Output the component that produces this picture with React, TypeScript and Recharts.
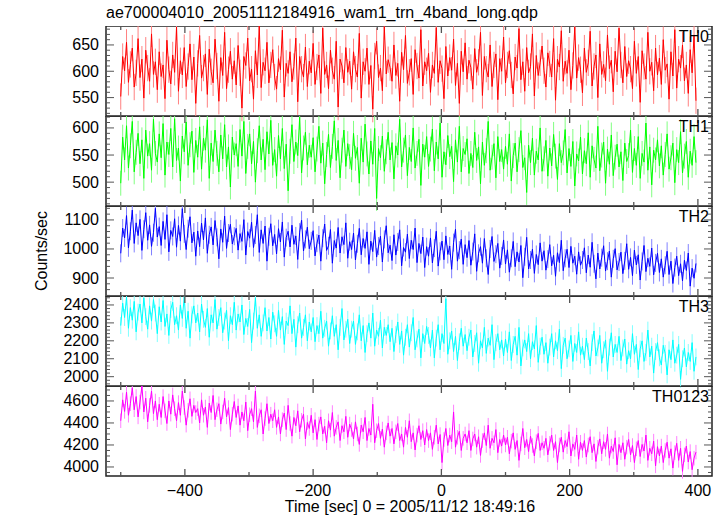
import { LineChart, Line, XAxis, YAxis, ReferenceArea, ErrorBar } from 'recharts';

// time grid of the light curve (seconds from 2005/11/12 18:49:16)
const startTime = -500;
const timeStep = 3;
const timeDomain: [number, number] = [-523, 422];
const timeTicks = [-500, -400, -300, -200, -100, 0, 100, 200, 300, 400];
const timeMajor = [-400, -200, 0, 200, 400];

const th0 = [
  552, 628, 601, 655, 579, 613, 644, 570, 597, 662, 588, 623, 549, 640, 606, 581, 671, 594, 618, 565,
  637, 590, 612, 548, 659, 603, 576, 631, 598, 684, 562, 620, 593, 645, 571, 609, 652, 584, 627, 539,
  615, 668, 587, 606, 633, 556, 642, 599, 578, 661, 610, 543, 626, 592, 674, 567, 603, 638, 585, 620,
  574, 649, 597, 530, 628, 611, 663, 582, 604, 547, 639, 593, 686, 569, 617, 601, 655, 578, 612, 641,
  589, 566, 624, 603, 678, 551, 615, 596, 637, 580, 609, 663, 542, 628, 604, 589, 646, 571, 619, 597,
  653, 575, 608, 631, 558, 682, 594, 612, 567, 640, 601, 585, 657, 532, 623, 610, 578, 645, 598, 619,
  566, 637, 604, 589, 672, 549, 618, 600, 644, 575, 611, 528, 629, 657, 588, 606, 563, 685, 595, 622,
  607, 581, 650, 592, 615, 543, 636, 603, 668, 577, 598, 624, 556, 641, 610, 587, 679, 572, 618, 601,
  634, 560, 612, 596, 683, 579, 620, 605, 548, 647, 591, 626, 602, 661, 573, 615, 539, 638, 599, 654,
  585, 621, 607, 566, 643, 598, 617, 674, 554, 628, 604, 589, 650, 571, 612, 633, 546, 624, 600, 665,
  578, 612, 639, 593, 557, 627, 606, 681, 584, 618, 562, 645, 597, 609, 671, 553, 630, 592, 616, 648,
  601, 570, 635, 614, 589, 662, 545, 623, 608, 677, 581, 619, 596, 640, 565, 611, 684, 587, 626, 603,
  559, 644, 598, 616, 676, 572, 609, 631, 550, 652, 594, 613, 582, 669, 605, 621, 561, 638, 599, 682,
  612, 578, 647, 590, 620, 604, 567, 657, 596, 628, 541, 639, 609, 585, 674, 600, 617, 563, 644, 593,
  625, 575, 660, 602, 614, 547, 637, 591, 679, 568, 623, 606, 650, 582, 612, 558, 641, 597, 669, 544,
];

const th1 = [
  498, 583, 541, 604, 526, 567, 612, 519, 555, 590, 534, 578, 507, 596, 548, 571, 522, 616, 553, 537,
  589, 545, 608, 513, 574, 551, 599, 528, 617, 540, 563, 502, 585, 556, 611, 531, 569, 594, 518, 577,
  546, 602, 524, 581, 559, 615, 507, 572, 538, 596, 553, 519, 587, 543, 606, 528, 565, 491, 583, 550,
  571, 529, 597, 548, 612, 516, 566, 589, 534, 575, 500, 558, 604, 541, 579, 523, 593, 552, 614, 531,
  560, 511, 586, 543, 599, 525, 570, 484, 557, 606, 538, 574, 549, 620, 517, 563, 592, 532, 568, 546,
  582, 519, 561, 603, 535, 572, 497, 551, 588, 527, 566, 613, 540, 577, 508, 559, 596, 529, 571, 547,
  523, 590, 544, 564, 498, 581, 537, 607, 552, 515, 576, 533, 599, 470, 562, 545, 585, 520, 556, 592,
  541, 573, 506, 567, 550, 616, 528, 559, 587, 512, 564, 538, 600, 526, 553, 579, 494, 570, 546, 584,
  529, 561, 598, 521, 574, 543, 609, 509, 556, 532, 586, 547, 566, 501, 578, 537, 603, 519, 562, 551,
  580, 516, 553, 527, 592, 540, 565, 497, 574, 531, 558, 612, 522, 546, 571, 508, 584, 538, 560, 524,
  566, 533, 589, 502, 549, 572, 519, 560, 595, 527, 545, 481, 568, 536, 581, 513, 557, 541, 600, 520,
  543, 577, 511, 563, 530, 588, 548, 505, 571, 536, 554, 597, 517, 562, 529, 575, 493, 552, 539, 583,
  515, 558, 534, 591, 509, 567, 542, 526, 603, 521, 550, 574, 498, 561, 533, 587, 512, 546, 570, 528,
  556, 503, 572, 538, 549, 596, 518, 562, 531, 584, 507, 553, 537, 609, 522, 565, 495, 559, 541, 578,
  530, 567, 513, 551, 589, 524, 545, 572, 499, 560, 536, 593, 517, 548, 575, 509, 557, 531, 584, 536,
];

const th2 = [
  985, 1072, 1038, 1115, 1004, 1061, 1134, 1019, 1090, 1046, 1102, 995, 1068, 1125, 1030, 1083, 1009, 1056, 1140, 1041,
  1077, 1012, 1095, 1033, 1118, 990, 1064, 1043, 1104, 1006, 1081, 1027, 1139, 1052, 998, 1070, 1111, 1021, 1058, 975,
  1062, 1008, 1089, 1031, 1107, 985, 1049, 1076, 1014, 1098, 1040, 966, 1069, 1023, 1113, 1002, 1055, 1085, 1017, 1044,
  1071, 996, 1053, 1026, 1101, 979, 1060, 1037, 1092, 1005, 1048, 1118, 988, 1066, 1019, 1079, 958, 1042, 1087, 1011,
  1050, 983, 1070, 1024, 1093, 972, 1039, 1061, 1007, 1082, 1016, 1045, 964, 1058, 1099, 993, 1033, 1075, 1001, 1028,
  1063, 976, 1020, 1048, 958, 1037, 1086, 995, 1011, 1067, 951, 1029, 1003, 1074, 986, 1042, 1015, 1090, 968, 1025,
  998, 1055, 962, 1018, 1071, 980, 1036, 1002, 1059, 947, 1027, 991, 1064, 972, 1010, 1044, 955, 1033, 1080, 987,
  1013, 960, 1049, 979, 1024, 1066, 942, 1005, 989, 1051, 967, 1030, 998, 1072, 953, 1019, 984, 1041, 936, 1008,
  975, 1038, 952, 1003, 1061, 941, 992, 1027, 963, 1045, 981, 1010, 930, 1022, 1068, 958, 996, 1034, 947, 1015,
  970, 1029, 944, 991, 1052, 923, 985, 1008, 951, 1036, 968, 912, 1000, 1043, 957, 982, 1019, 934, 976, 1031,
  948, 997, 920, 968, 1026, 939, 990, 955, 1012, 901, 973, 1040, 931, 962, 999, 916, 981, 946, 1021, 958,
  994, 927, 965, 1015, 942, 978, 906, 987, 953, 1030, 925, 968, 999, 936, 1009, 951, 975, 913, 990, 944,
  962, 1004, 918, 979, 937, 1023, 949, 897, 986, 931, 970, 1011, 924, 958, 993, 903, 966, 1001, 928, 955,
  989, 915, 959, 1018, 930, 971, 908, 996, 945, 980, 893, 957, 1012, 922, 968, 940, 1003, 911, 952, 985,
  919, 966, 903, 944, 992, 912, 958, 881, 936, 975, 908, 949, 890, 961, 926, 986, 872, 934, 899, 950,
];

const th3 = [
  2285, 2410, 2330, 2445, 2270, 2385, 2315, 2420, 2250, 2360, 2405, 2300, 2440, 2335, 2265, 2395, 2310, 2430, 2355, 2240,
  2390, 2305, 2425, 2280, 2350, 2230, 2375, 2415, 2290, 2340, 2260, 2400, 2325, 2445, 2270, 2365, 2215, 2345, 2395, 2300,
  2355, 2250, 2405, 2320, 2275, 2380, 2220, 2345, 2300, 2430, 2265, 2330, 2385, 2245, 2310, 2370, 2200, 2340, 2290, 2415,
  2260, 2350, 2305, 2400, 2235, 2325, 2280, 2375, 2190, 2310, 2440, 2270, 2345, 2225, 2300, 2385, 2255, 2330, 2210, 2360,
  2295, 2225, 2370, 2260, 2335, 2180, 2310, 2285, 2395, 2240, 2320, 2165, 2290, 2355, 2215, 2275, 2345, 2200, 2305, 2250,
  2330, 2195, 2285, 2240, 2365, 2215, 2270, 2310, 2170, 2255, 2340, 2225, 2290, 2150, 2275, 2380, 2205, 2265, 2320, 2185,
  2265, 2310, 2180, 2250, 2345, 2200, 2285, 2135, 2240, 2300, 2215, 2355, 2170, 2260, 2225, 2315, 2160, 2275, 2230, 2290,
  2195, 2270, 2140, 2235, 2305, 2180, 2255, 2120, 2220, 2290, 2165, 2245, 2330, 2150, 2210, 2265, 2105, 2240, 2185, 2280,
  2230, 2160, 2260, 2105, 2215, 2290, 2150, 2240, 2185, 2435, 2125, 2200, 2255, 2140, 2225, 2090, 2195, 2270, 2170, 2235,
  2145, 2220, 2260, 2110, 2185, 2245, 2075, 2200, 2160, 2275, 2130, 2215, 2175, 2290, 2095, 2190, 2240, 2150, 2205, 2115,
  2210, 2135, 2250, 2090, 2180, 2225, 2120, 2275, 2060, 2160, 2205, 2140, 2240, 2100, 2195, 2155, 2285, 2080, 2170, 2220,
  2125, 2190, 2075, 2165, 2240, 2110, 2200, 2145, 2265, 2045, 2175, 2215, 2100, 2155, 2230, 2085, 2185, 2135, 2250, 2120,
  2170, 2095, 2215, 2140, 2060, 2190, 2255, 2115, 2160, 2230, 2075, 2150, 2205, 2030, 2165, 2245, 2110, 2180, 2135, 2225,
  2090, 2160, 2210, 2070, 2145, 2100, 2240, 2125, 2180, 2040, 2155, 2200, 2085, 2135, 2260, 2110, 2170, 2020, 2140, 2190,
  2105, 2065, 2175, 2130, 2010, 2150, 2095, 2205, 2075, 2120, 2180, 1985, 2100, 2160, 2055, 2135, 2085, 2190, 2030, 2110,
];

const th0123 = [
  4420, 4610, 4505, 4680, 4470, 4575, 4720, 4520, 4640, 4455, 4590, 4735, 4500, 4625, 4410, 4560, 4690, 4485, 4600, 4430,
  4570, 4450, 4640, 4510, 4395, 4600, 4480, 4655, 4530, 4420, 4585, 4470, 4690, 4540, 4380, 4515, 4620, 4460, 4560, 4495,
  4530, 4400, 4610, 4470, 4545, 4360, 4580, 4495, 4650, 4430, 4520, 4575, 4390, 4500, 4625, 4455, 4540, 4340, 4480, 4595,
  4450, 4555, 4380, 4500, 4420, 4590, 4330, 4475, 4530, 4410, 4690, 4360, 4465, 4520, 4300, 4440, 4575, 4395, 4480, 4420,
  4520, 4360, 4455, 4300, 4430, 4490, 4340, 4560, 4395, 4280, 4450, 4375, 4510, 4320, 4425, 4480, 4255, 4405, 4350, 4470,
  4310, 4430, 4250, 4390, 4455, 4300, 4370, 4220, 4420, 4335, 4495, 4280, 4360, 4410, 4240, 4375, 4320, 4460, 4270, 4390,
  4340, 4255, 4410, 4300, 4205, 4380, 4320, 4450, 4240, 4350, 4290, 4570, 4220, 4330, 4395, 4260, 4345, 4180, 4310, 4400,
  4280, 4350, 4210, 4320, 4395, 4240, 4300, 4180, 4360, 4270, 4420, 4230, 4310, 4155, 4290, 4375, 4250, 4330, 4200, 4340,
  4240, 4310, 4160, 4270, 4380, 4210, 4295, 4040, 4250, 4350, 4195, 4290, 4230, 4500, 4180, 4270, 4325, 4150, 4260, 4300,
  4220, 4330, 4150, 4255, 4300, 4180, 4275, 4105, 4240, 4310, 4195, 4380, 4170, 4260, 4220, 4340, 4130, 4250, 4190, 4290,
  4200, 4270, 4120, 4235, 4310, 4160, 4240, 4060, 4210, 4350, 4175, 4250, 4140, 4280, 4195, 4100, 4230, 4305, 4150, 4220,
  4170, 4260, 4110, 4215, 4290, 4150, 4230, 4040, 4200, 4270, 4135, 4240, 4185, 4320, 4100, 4210, 4160, 4290, 4070, 4225,
  4150, 4240, 4090, 4200, 4275, 4130, 4210, 4050, 4180, 4255, 4120, 4230, 4160, 4300, 4080, 4190, 4140, 4265, 4020, 4205,
  4130, 4220, 4070, 4180, 4250, 4110, 4195, 4040, 4165, 4240, 4095, 4205, 4145, 4290, 4060, 4170, 4120, 4235, 4010, 4185,
  4100, 4190, 4040, 4150, 4225, 4080, 4165, 3990, 4130, 4215, 4060, 4170, 3960, 4110, 4190, 4045, 4140, 3975, 4080, 4135,
];

const bandNames = ['TH0', 'TH1', 'TH2', 'TH3', 'TH0123'];
const bandColors = ['#ff0000', '#00ff00', '#0000ff', '#00ffff', '#ff00ff'];
const bandErrorColors = ['#ff8080', '#80ff80', '#8080ff', '#80ffff', '#ff80ff'];
const bandErrors = [25, 23, 31, 47, 66];
const bandDomains: [number, number][] = [[515, 686], [456, 622], [838, 1148], [1948, 2450], [3918, 4736]];
const bandMajorTicks = [
  [550, 600, 650],
  [500, 550, 600],
  [900, 1000, 1100],
  [2000, 2100, 2200, 2300, 2400],
  [4000, 4200, 4400, 4600],
];
const bandMinorStep = [10, 10, 20, 20, 50];
const bandValues = [th0, th1, th2, th3, th0123];

const FONT = '"Liberation Sans", Arial, Helvetica, sans-serif';
const LEFT = 106;
const PLOT_W = 606;
const PANEL_H = 90;
const TOP = 26;
const AXIS_H = 40;
const TICK_COLOR = '#555';

const minorTicks = (domain: [number, number], step: number) => {
  const out: number[] = [];
  for (let v = Math.ceil(domain[0] / step) * step; v <= domain[1]; v += step) out.push(v);
  return out;
};

const YTick = (props: any) => {
  const { x, y, payload, majors } = props;
  const major = majors.includes(payload.value);
  const len = major ? 8 : 4;
  return (
    <g>
      <line x1={x} x2={x + len} y1={y} y2={y} stroke={TICK_COLOR} strokeWidth={1} />
      <line x1={x + PLOT_W} x2={x + PLOT_W - len} y1={y} y2={y} stroke={TICK_COLOR} strokeWidth={1} />
      {major && (
        <text x={x - 7} y={y} textAnchor="end" dominantBaseline="central" fontSize={16} fontFamily={FONT} fill="#000">
          {payload.value}
        </text>
      )}
    </g>
  );
};

const XTick = (props: any) => {
  const { x, y, payload, showLabel } = props;
  const major = timeMajor.includes(payload.value);
  const len = major ? 7 : 4;
  return (
    <g>
      <line x1={x} x2={x} y1={y} y2={y - len} stroke={TICK_COLOR} strokeWidth={1.3} />
      <line x1={x} x2={x} y1={y - PANEL_H} y2={y - PANEL_H + len} stroke={TICK_COLOR} strokeWidth={1.3} />
      {showLabel && major && (
        <text x={x} y={y + 14} textAnchor="middle" dominantBaseline="central" fontSize={16} fontFamily={FONT} fill="#000">
          {payload.value < 0 ? '\u2212' + Math.abs(payload.value) : payload.value}
        </text>
      )}
    </g>
  );
};

const Panel = ({ index }: { index: number }) => {
  const domain = bandDomains[index];
  const majors = bandMajorTicks[index];
  const data = bandValues[index].map((v, i) => ({ t: startTime + i * timeStep, v, e: bandErrors[index] }));
  const last = index === bandNames.length - 1;
  return (
    <div style={{ position: 'absolute', left: 0, top: TOP + index * PANEL_H }}>
      <LineChart width={724} height={PANEL_H + AXIS_H} data={data} margin={{ top: 0, right: 724 - LEFT - PLOT_W, bottom: 0, left: 0 }}>
        <XAxis
          dataKey="t"
          type="number"
          domain={timeDomain}
          allowDataOverflow
          ticks={timeTicks}
          interval={0}
          height={AXIS_H}
          axisLine={false}
          tickLine={false}
          tickSize={0}
          tickMargin={0}
          tick={(p: any) => <XTick {...p} showLabel={last} />}
        />
        <YAxis
          type="number"
          domain={domain}
          allowDataOverflow
          ticks={minorTicks(domain, bandMinorStep[index])}
          interval={0}
          width={LEFT}
          axisLine={false}
          tickLine={false}
          tickSize={0}
          tickMargin={0}
          tick={(p: any) => <YTick {...p} majors={majors} />}
        />
        <Line type="linear" dataKey="v" stroke={bandColors[index]} strokeWidth={1} dot={false} isAnimationActive={false}>
          <ErrorBar dataKey="e" direction="y" width={0} stroke={bandErrorColors[index]} strokeWidth={1} />
        </Line>
        <ReferenceArea x1={timeDomain[0]} x2={timeDomain[1]} y1={domain[0]} y2={domain[1]} fill="none" stroke="#222" strokeWidth={1.5} />
      </LineChart>
      <div
        style={{
          position: 'absolute', left: 0, top: 2, width: 709, textAlign: 'right',
          fontFamily: FONT, fontSize: 16, color: '#000',
        }}
      >
        {bandNames[index]}
      </div>
    </div>
  );
};

export default function App() {
  return (
    <div style={{ position: 'absolute', left: 0, top: 0, width: 724, height: 516, background: '#fff', overflow: 'hidden' }}>
      <div style={{ position: 'absolute', left: LEFT, top: 4, fontFamily: FONT, fontSize: 16, color: '#000', whiteSpace: 'nowrap' }}>
        ae700004010_20051112184916_wam1_trn_4band_long.qdp
      </div>
      {bandNames.map((_, i) => (
        <Panel key={i} index={i} />
      ))}
      <div
        style={{
          position: 'absolute', left: 42, top: 251, transform: 'translate(-50%, -50%) rotate(-90deg)',
          fontFamily: FONT, fontSize: 16, color: '#000', whiteSpace: 'nowrap',
        }}
      >
        Counts/sec
      </div>
      <div
        style={{
          position: 'absolute', left: 0, width: 820, top: 498, textAlign: 'center',
          fontFamily: FONT, fontSize: 16, color: '#000', whiteSpace: 'nowrap',
        }}
      >
        Time [sec] 0 = 2005/11/12 18:49:16
      </div>
    </div>
  );
}
